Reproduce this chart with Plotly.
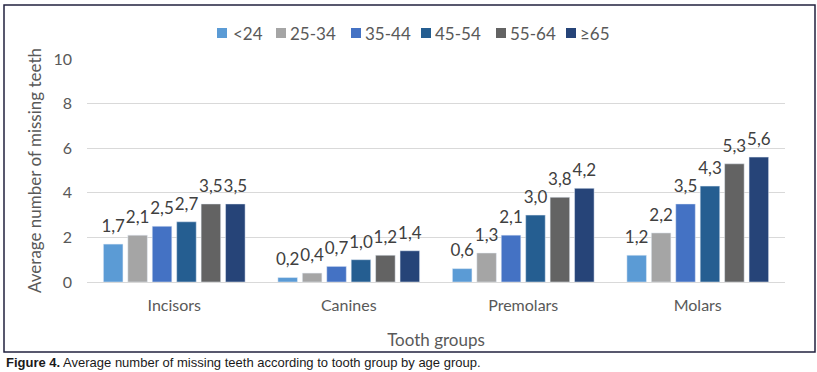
import plotly.graph_objects as go

categories = ["Incisors", "Canines", "Premolars", "Molars"]
age_groups = ["<24", "25-34", "35-44", "45-54", "55-64", "≥65"]
v_lt24 = [1.7, 0.2, 0.6, 1.2]
v_25_34 = [2.1, 0.4, 1.3, 2.2]
v_35_44 = [2.5, 0.7, 2.1, 3.5]
v_45_54 = [2.7, 1.0, 3.0, 4.3]
v_55_64 = [3.5, 1.2, 3.8, 5.3]
v_ge65 = [3.5, 1.4, 4.2, 5.6]
series = [v_lt24, v_25_34, v_35_44, v_45_54, v_55_64, v_ge65]
colors = ["#5B9BD5", "#A5A5A5", "#4472C4", "#255E91", "#636363", "#264478"]
y_ticks = [0, 2, 4, 6, 8, 10]

W, H = 817, 372
L, R, T, B = 87, 32, 59, 90
pw, ph = W - L - R, H - T - B
FONT = "Lato, Open Sans, sans-serif"


def px(x):
    return (x - L) / pw


def py(y):
    return 1 - (y - T) / ph


fig = go.Figure()
for name, vals, c in zip(age_groups, series, colors):
    fig.add_trace(go.Bar(x=categories, y=vals, name=name, marker_color=c,
                         showlegend=False, hoverinfo="x+y+name"))
# value labels, grouped the same way as the bars
for name, vals in zip(age_groups, series):
    fig.add_trace(go.Scatter(
        x=categories, y=vals, mode="markers+text", showlegend=False, hoverinfo="skip",
        marker=dict(size=11, opacity=0),
        text=[f"{v:.1f}".replace(".", ",") for v in vals],
        textposition="top center", cliponaxis=False,
        textfont=dict(family=FONT, size=17, color="#404040"),
    ))

# legend drawn as squares + labels
leg_sq = [217, 276, 351, 421, 496, 566]
leg_tx = [231, 288, 363, 433, 508, 578]
shapes = [dict(type="rect", xref="paper", yref="paper",
               x0=px(4), x1=px(815), y0=py(352), y1=py(5),
               line=dict(color="#22223F", width=1.5), fillcolor="rgba(0,0,0,0)")]
annotations = []
for name, c, sx, tx in zip(age_groups, colors, leg_sq, leg_tx):
    shapes.append(dict(type="rect", xref="paper", yref="paper",
                       x0=px(sx), x1=px(sx + 10), y0=py(38), y1=py(28),
                       line=dict(width=0), fillcolor=c))
    annotations.append(dict(xref="paper", yref="paper", x=px(tx), y=py(33),
                            xanchor="left", yanchor="middle", showarrow=False, text=name,
                            font=dict(family=FONT, size=17, color="#595959")))
annotations.append(dict(xref="paper", yref="paper", x=px(4), y=py(362), xanchor="left",
                        yanchor="middle", showarrow=False,
                        text="<b>Figure 4.</b> Average number of missing teeth according to tooth group by age group.",
                        font=dict(family="Liberation Sans, Arial, sans-serif", size=13, color="#1A1A1A")))

fig.update_layout(
    width=W, height=H,
    margin=dict(l=L, r=R, t=T, b=B, autoexpand=False),
    paper_bgcolor="white", plot_bgcolor="white",
    barmode="group", bargap=0.16, bargroupgap=0.2,
    scattermode="group", scattergap=0.16,
    font=dict(family=FONT, color="#595959"),
    showlegend=False,
    xaxis=dict(showgrid=False, tickfont=dict(size=16, color="#595959"), automargin=False,
               title=dict(text="Tooth groups", font=dict(size=17, color="#595959"), standoff=21),
               showline=False, ticks="", ticklabelstandoff=12),
    yaxis=dict(range=[0, 10], tickvals=y_ticks, tickfont=dict(size=16, color="#595959"),
               automargin=False,
               gridcolor="#D9D9D9", zeroline=True, zerolinecolor="#D9D9D9", zerolinewidth=1,
               title=dict(text="Average number of missing teeth", font=dict(size=17, color="#595959"),
                          standoff=7),
               ticks="", ticklabelstandoff=14),
    shapes=shapes,
    annotations=annotations,
)

fig.write_html("out.html", config={"displayModeBar": False},
               post_script="document.body.style.margin='0px';")
